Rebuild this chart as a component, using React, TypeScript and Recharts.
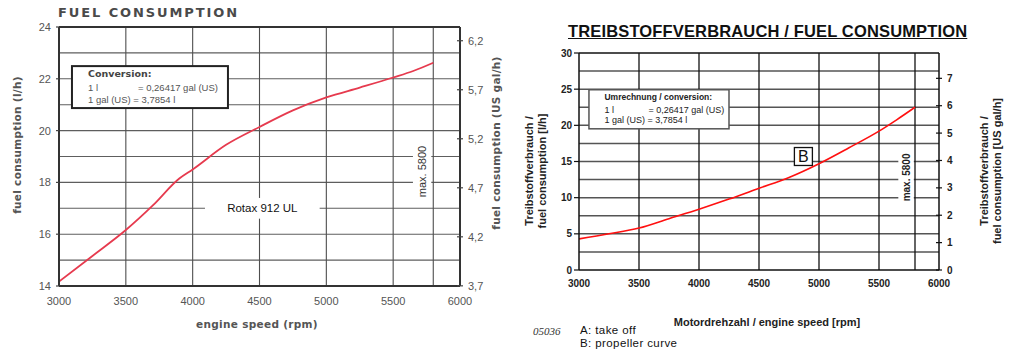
import React from 'react';
import { LineChart, Line, XAxis, YAxis, ReferenceLine, ReferenceArea } from 'recharts';

const L_TO_GAL = 0.26417;

// ---- Left chart (Rotax 912 UL) ----
const leftRpm = [3000, 3250, 3500, 3700, 3900, 4000, 4250, 4500, 4750, 5000, 5250, 5500, 5650, 5800];
const leftFuel = [14.17, 15.16, 16.16, 17.1, 18.15, 18.5, 19.45, 20.14, 20.78, 21.28, 21.66, 22.05, 22.3, 22.62];
const leftXTicks = [3000, 3500, 4000, 4500, 5000, 5500, 6000];
const leftYTicks = [14, 16, 18, 20, 22, 24];
const leftGalTicks = [3.7, 4.2, 4.7, 5.2, 5.7, 6.2];
const leftHGrid = [15, 16, 17, 18, 19, 20, 21, 22, 23];
const leftVGrid = [3500, 4000, 4500, 5000, 5500, 5800];

// ---- Right chart (propeller curve) ----
const rightRpm = [3000, 3250, 3500, 3750, 4000, 4250, 4500, 4750, 5000, 5250, 5500, 5650, 5800];
const rightFuel = [4.3, 5.0, 5.8, 7.1, 8.4, 9.8, 11.3, 12.8, 14.7, 16.9, 19.2, 20.8, 22.5];
const rightXTicks = [3000, 3500, 4000, 4500, 5000, 5500, 6000];
const rightYTicks = [0, 5, 10, 15, 20, 25, 30];
const rightGalTicks = [0, 1, 2, 3, 4, 5, 6, 7];
const rightHGrid = [2.5, 5, 7.5, 10, 12.5, 15, 17.5, 20, 22.5, 25, 27.5];
const rightVGrid = [3500, 4000, 4500, 5000, 5500, 5800];

const leftData = leftRpm.map((rpm, i) => ({ rpm, fuel: leftFuel[i] }));
const rightData = rightRpm.map((rpm, i) => ({ rpm, fuel: rightFuel[i] }));

const comma = (v: number) => String(v).replace('.', ',');

type TickOpts = {
  side: 'left' | 'right';
  margin: number;
  inner: number;
  outer: number;
  stroke: string;
  fill: string;
  size: number;
  weight?: string;
  family: string;
  fmt: (v: number) => string;
};

const makeTick = (o: TickOpts) => (props: any) => {
  const { x, y, payload } = props;
  const dir = o.side === 'left' ? -1 : 1;
  const axisX = x - dir * o.margin;
  return (
    <g>
      <line x1={axisX - dir * o.inner} x2={axisX + dir * o.outer} y1={y} y2={y} stroke={o.stroke} strokeWidth={1.2} />
      <text
        x={x}
        y={y}
        dy="0.36em"
        textAnchor={o.side === 'left' ? 'end' : 'start'}
        fill={o.fill}
        fontSize={o.size}
        fontWeight={o.weight || 'normal'}
        fontFamily={o.family}
      >
        {o.fmt(payload.value)}
      </text>
    </g>
  );
};

const leftLTick = makeTick({ side: 'left', margin: 8, inner: 0, outer: 3, stroke: '#444', fill: '#555', size: 11, family: 'Arial', fmt: (v) => String(v) });
const leftRTick = makeTick({ side: 'right', margin: 8, inner: 3, outer: 3, stroke: '#444', fill: '#555', size: 11, family: 'Arial', fmt: comma });
const rightLTick = makeTick({ side: 'left', margin: 7, inner: 0, outer: 5, stroke: '#111', fill: '#222', size: 10, weight: 'bold', family: 'Arial', fmt: (v) => String(v) });
const rightRTick = makeTick({ side: 'right', margin: 8, inner: 3, outer: 3, stroke: '#111', fill: '#222', size: 10, weight: 'bold', family: 'Arial', fmt: (v) => String(v) });

const VText = ({ cx, cy, children, style }: any) => (
  <div
    style={{
      position: 'absolute',
      left: cx,
      top: cy,
      transform: 'translate(-50%, -50%) rotate(-90deg)',
      whiteSpace: 'nowrap',
      textAlign: 'center',
      ...style,
    }}
  >
    {children}
  </div>
);

const LeftChart = () => (
  <LineChart width={512} height={352} data={leftData} margin={{ top: 27, right: 0, bottom: 0, left: 0 }}>
    <XAxis
      dataKey="rpm"
      type="number"
      domain={[3000, 6000]}
      ticks={leftXTicks}
      interval={0}
      height={66}
      tickSize={0}
      tickMargin={11}
      tickLine={false}
      axisLine={{ stroke: '#333', strokeWidth: 2 }}
      tick={{ fill: '#555', fontSize: 11, fontFamily: 'Arial' }}
      allowDataOverflow
    />
    <YAxis
      yAxisId="l"
      orientation="left"
      type="number"
      width={59}
      domain={[14, 24]}
      ticks={leftYTicks}
      interval={0}
      tickSize={0}
      tickMargin={8}
      tickLine={false}
      axisLine={{ stroke: '#333', strokeWidth: 2 }}
      tick={leftLTick}
      allowDataOverflow
    />
    <YAxis
      yAxisId="g"
      orientation="right"
      type="number"
      width={52}
      domain={[14 * L_TO_GAL, 24 * L_TO_GAL]}
      ticks={leftGalTicks}
      interval={0}
      tickSize={0}
      tickMargin={8}
      tickLine={false}
      axisLine={{ stroke: '#333', strokeWidth: 2 }}
      tick={leftRTick}
      allowDataOverflow
    />
    {leftHGrid.map((v) => (
      <ReferenceLine key={'h' + v} yAxisId="l" y={v} stroke="#5e5e5e" strokeWidth={1.1} zIndex={-10} />
    ))}
    {leftVGrid.map((v) => (
      <ReferenceLine key={'v' + v} yAxisId="l" x={v} stroke="#4e4e4e" strokeWidth={1.1} zIndex={-10} />
    ))}
    <ReferenceLine yAxisId="l" y={24} stroke="#333" strokeWidth={2} zIndex={-10} />
    <ReferenceArea
      yAxisId="l"
      x1={3097}
      x2={4264}
      y1={20.87}
      y2={22.49}
      zIndex={50}
      ifOverflow="visible"
      shape={(p: any) => (
        <g>
          <rect x={p.x} y={p.y} width={p.width} height={p.height} fill="#fff" stroke="#222" strokeWidth={2} />
          <text x={p.x + 16} y={p.y + 8} dy="0.35em" fontSize={9.5} fontWeight="bold" fontFamily="DejaVu Sans" fill="#444">Conversion:</text>
          <text x={p.x + 16} y={p.y + 21.5} dy="0.35em" fontSize={9.5} fontFamily="Arial" fill="#555">1 l</text>
          <text x={p.x + 66} y={p.y + 21.5} dy="0.35em" fontSize={9.5} fontFamily="Arial" fill="#555">=  0,26417 gal (US)</text>
          <text x={p.x + 16} y={p.y + 33.5} dy="0.35em" fontSize={9.5} fontFamily="Arial" fill="#555">1 gal (US) =  3,7854 l</text>
        </g>
      )}
    />
    <ReferenceArea
      yAxisId="l"
      x1={4092}
      x2={4950}
      y1={16.6}
      y2={17.4}
      zIndex={50}
      shape={(p: any) => (
        <g>
          <rect x={p.x} y={p.y} width={p.width} height={p.height} fill="#fff" />
          <text x={p.x + p.width / 2} y={p.y + p.height / 2} dy="0.35em" textAnchor="middle" fontSize={11.5} fontFamily="Arial" fill="#111">Rotax 912 UL</text>
        </g>
      )}
    />
    <ReferenceArea
      yAxisId="l"
      x1={5648}
      x2={5785}
      y1={17.4}
      y2={19.44}
      zIndex={50}
      shape={(p: any) => {
        const cx = p.x + p.width / 2;
        const cy = p.y + p.height / 2;
        return (
          <g>
            <rect x={p.x} y={p.y} width={p.width} height={p.height} fill="#fff" />
            <text x={cx} y={cy} dy="0.35em" textAnchor="middle" transform={`rotate(-90 ${cx} ${cy})`} fontSize={11} fontFamily="Arial" fill="#333">max. 5800</text>
          </g>
        );
      }}
    />
    <Line yAxisId="l" dataKey="fuel" type="monotone" stroke="#e63a4e" strokeWidth={1.8} dot={false} isAnimationActive={false} />
  </LineChart>
);

const RightChart = () => (
  <LineChart width={512} height={352} data={rightData} margin={{ top: 53, right: 0, bottom: 0, left: 0 }}>
    <XAxis
      dataKey="rpm"
      type="number"
      domain={[3000, 6000]}
      ticks={rightXTicks}
      interval={0}
      height={82}
      tickSize={0}
      tickMargin={10}
      tickLine={false}
      axisLine={{ stroke: '#111', strokeWidth: 1.5 }}
      tick={{ fill: '#222', fontSize: 10, fontWeight: 'bold', fontFamily: 'Arial' }}
      allowDataOverflow
    />
    <YAxis
      yAxisId="l"
      orientation="left"
      type="number"
      width={67}
      domain={[0, 30]}
      ticks={rightYTicks}
      interval={0}
      tickSize={0}
      tickMargin={7}
      tickLine={false}
      axisLine={{ stroke: '#111', strokeWidth: 1.5 }}
      tick={rightLTick}
      allowDataOverflow
    />
    <YAxis
      yAxisId="g"
      orientation="right"
      type="number"
      width={85}
      domain={[0, 30 * L_TO_GAL]}
      ticks={rightGalTicks}
      interval={0}
      tickSize={0}
      tickMargin={8}
      tickLine={false}
      axisLine={{ stroke: '#111', strokeWidth: 1.5 }}
      tick={rightRTick}
      allowDataOverflow
    />
    {rightHGrid.map((v) => (
      <ReferenceLine key={'h' + v} yAxisId="l" y={v} stroke="#555" strokeWidth={1.5} zIndex={-10} />
    ))}
    {rightVGrid.map((v) => (
      <ReferenceLine key={'v' + v} yAxisId="l" x={v} stroke="#111" strokeWidth={1.3} zIndex={-10} />
    ))}
    <ReferenceLine yAxisId="l" y={30} stroke="#111" strokeWidth={1.5} zIndex={-10} />
    <ReferenceArea
      yAxisId="l"
      x1={3083}
      x2={4250}
      y1={19.52}
      y2={24.92}
      zIndex={50}
      ifOverflow="visible"
      shape={(p: any) => (
        <g>
          <rect x={p.x} y={p.y} width={p.width} height={p.height} fill="#fff" stroke="#555" strokeWidth={1.5} />
          <text x={p.x + 15.5} y={p.y + 7.7} dy="0.35em" fontSize={8.5} fontWeight="bold" fontFamily="Arial" fill="#222">Umrechnung / conversion:</text>
          <text x={p.x + 15.5} y={p.y + 19.7} dy="0.35em" fontSize={9} fontFamily="Arial" fill="#222">1 l</text>
          <text x={p.x + 59.5} y={p.y + 19.7} dy="0.35em" fontSize={9} fontFamily="Arial" fill="#222">=  0,26417 gal (US)</text>
          <text x={p.x + 15.5} y={p.y + 30} dy="0.35em" fontSize={9} fontFamily="Arial" fill="#222">1 gal (US) =  3,7854 l</text>
        </g>
      )}
    />
    <ReferenceArea
      yAxisId="l"
      x1={5661}
      x2={5790}
      y1={9.2}
      y2={16.4}
      zIndex={50}
      shape={(p: any) => {
        const cx = p.x + p.width / 2;
        const cy = p.y + p.height / 2;
        return (
          <g>
            <rect x={p.x} y={p.y} width={p.width} height={p.height} fill="#fff" />
            <text x={cx} y={cy} dy="0.35em" textAnchor="middle" transform={`rotate(-90 ${cx} ${cy})`} fontSize={10} fontWeight="bold" fontFamily="Arial" fill="#222">max. 5800</text>
          </g>
        );
      }}
    />
    <ReferenceArea
      yAxisId="l"
      x1={4795}
      x2={4945}
      y1={14.45}
      y2={16.93}
      zIndex={50}
      shape={(p: any) => (
        <g>
          <rect x={p.x} y={p.y} width={p.width} height={p.height} fill="#fff" stroke="#111" strokeWidth={1.3} />
          <text x={p.x + p.width / 2} y={p.y + p.height / 2} dy="0.36em" textAnchor="middle" fontSize={16} fontFamily="Arial" fill="#111">B</text>
        </g>
      )}
    />
    <Line yAxisId="l" dataKey="fuel" type="monotone" stroke="#ff1010" strokeWidth={1.6} dot={false} isAnimationActive={false} />
  </LineChart>
);

export default function App() {
  return (
    <div style={{ position: 'absolute', left: 0, top: 0, width: 1024, height: 352, background: '#fff', overflow: 'hidden' }}>
      <div style={{ position: 'absolute', left: 0, top: 0 }}>
        <LeftChart />
      </div>
      <div style={{ position: 'absolute', left: 512, top: 0 }}>
        <RightChart />
      </div>

      {/* Left chart texts */}
      <div style={{ position: 'absolute', left: 58, top: 5, fontFamily: 'DejaVu Sans', fontWeight: 'bold', fontSize: 13, letterSpacing: 1.9, color: '#4a4a4a', lineHeight: '16px', whiteSpace: 'nowrap' }}>
        FUEL CONSUMPTION
      </div>
      <VText cx={17} cy={145} style={{ fontFamily: 'DejaVu Sans', fontWeight: 'bold', fontSize: 10.5, letterSpacing: 0.3, color: '#555', lineHeight: '13px' }}>
        fuel consumption (l/h)
      </VText>
      <VText cx={496} cy={143} style={{ fontFamily: 'DejaVu Sans', fontWeight: 'bold', fontSize: 10.5, letterSpacing: 0.3, color: '#555', lineHeight: '13px' }}>
        fuel consumption (US gal/h)
      </VText>
      <div style={{ position: 'absolute', left: 257, top: 324, transform: 'translate(-50%, -50%)', whiteSpace: 'nowrap', fontFamily: 'DejaVu Sans', fontWeight: 'bold', fontSize: 10.5, letterSpacing: 0.3, color: '#555', lineHeight: '13px' }}>
        engine speed (rpm)
      </div>

      {/* Right chart texts */}
      <div style={{ position: 'absolute', left: 568, top: 22, fontFamily: 'Arial', fontWeight: 'bold', fontSize: 16.5, letterSpacing: 0.15, color: '#111', lineHeight: '19px', textDecoration: 'underline', whiteSpace: 'nowrap' }}>
        TREIBSTOFFVERBRAUCH / FUEL CONSUMPTION
      </div>
      <VText cx={535} cy={171} style={{ fontFamily: 'Arial', fontWeight: 'bold', fontSize: 11, color: '#222', lineHeight: '12.5px' }}>
        Treibstoffverbrauch /<br />fuel consumption [l/h]
      </VText>
      <VText cx={991} cy={171} style={{ fontFamily: 'Arial', fontWeight: 'bold', fontSize: 11, color: '#222', lineHeight: '13px' }}>
        Treibstoffverbrauch /<br />fuel consumption [US gal/h]
      </VText>
      <div style={{ position: 'absolute', left: 767, top: 322, transform: 'translate(-50%, -50%)', whiteSpace: 'nowrap', fontFamily: 'Arial', fontWeight: 'bold', fontSize: 11, color: '#222', lineHeight: '13px' }}>
        Motordrehzahl / engine speed [rpm]
      </div>
      <div style={{ position: 'absolute', left: 533, top: 324, fontFamily: 'Liberation Serif', fontStyle: 'italic', fontSize: 11, color: '#333', lineHeight: '14px' }}>
        05036
      </div>
      <div style={{ position: 'absolute', left: 580, top: 324, fontFamily: 'Arial', fontSize: 11.5, color: '#111', lineHeight: '12.5px', letterSpacing: 0.4, whiteSpace: 'nowrap' }}>
        A: take off
        <br />
        B: propeller curve
      </div>
    </div>
  );
}
